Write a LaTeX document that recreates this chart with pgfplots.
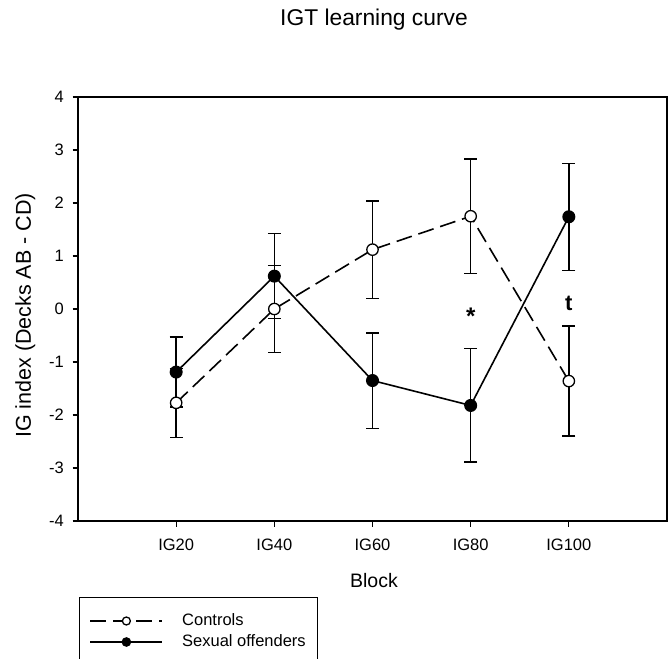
\documentclass[border=0pt]{standalone}
\usepackage{fontspec}
\setmainfont{Liberation Sans}
\usepackage{pgfplots}
\pgfplotsset{compat=1.18}
\begin{document}
\begin{tikzpicture}[x=1pt,y=1pt]
\useasboundingbox (0,0) rectangle (668,658);
\begin{axis}[
  at={(78pt,137pt)}, anchor=south west,
  width=589pt, height=424pt, scale only axis,
  xmin=0, xmax=6, ymin=-4, ymax=4,
  xtick={1,2,3,4,5}, xticklabels={IG20,IG40,IG60,IG80,IG100},
  ytick={-4,-3,-2,-1,0,1,2,3,4}, yticklabels={-4,-3,-2,-1,0,1,2,3,4},
  tick pos=left, tick align=outside, major tick length=5.5pt,
  tick style={black, line width=1.3pt},
  axis line style={line width=1.5pt, black},
  ticklabel style={font=\fontsize{16.5}{19}\selectfont},
  yticklabel style={anchor=east, inner sep=0pt, xshift=-8.5pt},
  xticklabel style={anchor=north, inner sep=0pt, yshift=-12.5pt},
  title={IGT learning curve},
  title style={font=\fontsize{22.8}{27}\selectfont, at={(axis description cs:0.5025,1.1533)}, anchor=base, inner sep=0pt},
  xlabel={Block},
  xlabel style={font=\fontsize{19.5}{23}\selectfont, at={(axis description cs:0.5025,-0.158)}, anchor=base, inner sep=0pt},
  ylabel={IG index (Decks AB - CD)},
  ylabel style={font=\fontsize{21.5}{25}\selectfont, at={(axis description cs:-0.0798,0.4847)}, anchor=base, inner sep=0pt},
  legend style={at={(axis description cs:0.0017,-0.179)}, anchor=north west,
    draw=black, line width=1.2pt, inner xsep=10pt, inner ysep=13pt,
    font=\fontsize{16.5}{19}\selectfont,
    nodes={inner xsep=2pt, inner ysep=2.5pt, text height=12pt, text depth=4pt},
    column sep=17pt, row sep=0pt},
  legend cell align=left,
  legend image code/.code={\draw[mark repeat=2,mark phase=2,#1,mark size=4pt] plot coordinates {(0pt,0pt) (36pt,0pt) (72pt,0pt)};},
  clip=false,
]
\addplot+[black, line width=1.6pt, dash pattern=on 16pt off 7pt,
  mark=*, mark size=5.7pt, mark options={solid, fill=white, draw=black, line width=1.3pt},
  error bars/.cd, y dir=both, y explicit,
  error bar style={line width=1.4pt, solid, black},
  error mark options={rotate=90, mark size=6.5pt, line width=1.4pt, solid, black}]
  coordinates {
  (1,-1.77) +- (0,0.65)
  (2,0.00) +- (0,0.82)
  (3,1.12) +- (0,0.92)
  (4,1.75) +- (0,1.08)
  (5,-1.36) +- (0,1.04)
  };
\addlegendentry{Controls}
\addplot+[black, line width=1.6pt, solid,
  mark=*, mark size=5.7pt, mark options={solid, fill=black, draw=black},
  error bars/.cd, y dir=both, y explicit,
  error bar style={line width=1.4pt, solid, black},
  error mark options={rotate=90, mark size=6.5pt, line width=1.4pt, solid, black}]
  coordinates {
  (1,-1.19) +- (0,0.66)
  (2,0.62) +- (0,0.80)
  (3,-1.35) +- (0,0.90)
  (4,-1.82) +- (0,1.07)
  (5,1.74) +- (0,1.01)
  };
\addlegendentry{Sexual offenders}
\node[font=\bfseries\fontsize{24}{28}\selectfont, anchor=base, inner sep=0pt] at (axis cs:4,-0.30) {*};
\node[font=\bfseries\fontsize{22}{26}\selectfont, anchor=base, inner sep=0pt] at (axis cs:5,-0.02) {t};
\end{axis}
\end{tikzpicture}
\end{document}
